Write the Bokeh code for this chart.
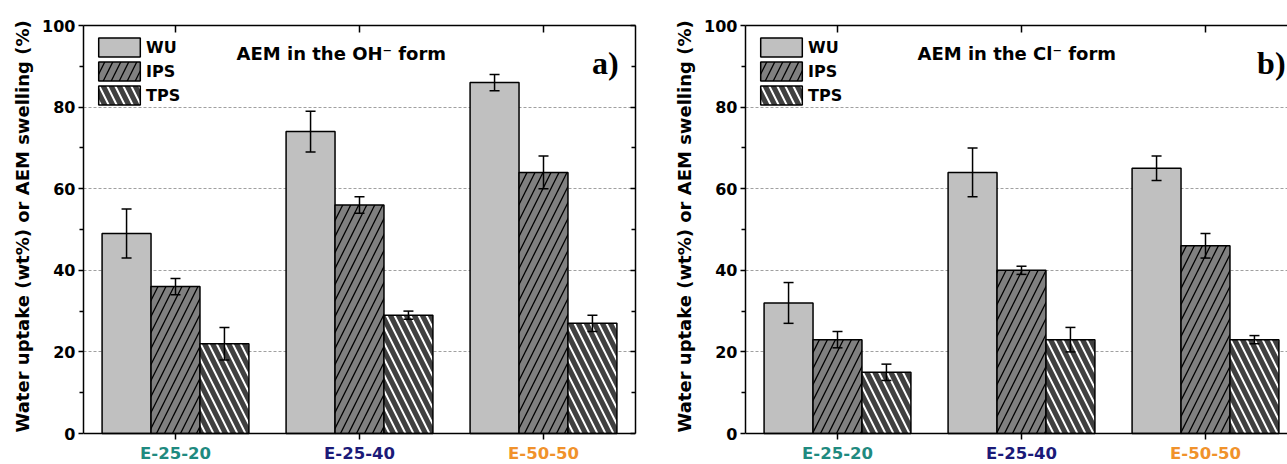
from bokeh.plotting import figure
from bokeh.models import (ColumnDataSource, Whisker, TeeHead, LinearAxis, FixedTicker,
                          Range1d, Label, Legend, LegendItem, CustomJSTickFormatter, Span,
                          Title)
from bokeh.core.properties import value
from bokeh.layouts import row
from bokeh.embed import file_html
from bokeh.resources import INLINE

# ---------------- data ----------------
categories = ["E-25-20", "E-25-40", "E-50-50"]
category_colors = ["#1f8a80", "#1b1a78", "#f0922b"]
series_names = ["WU", "IPS", "TPS"]

oh_wu = [49, 74, 86]
oh_wu_err = [6, 5, 2]
oh_ips = [36, 56, 64]
oh_ips_err = [2, 2, 4]
oh_tps = [22, 29, 27]
oh_tps_err = [4, 1, 2]

cl_wu = [32, 64, 65]
cl_wu_err = [5, 6, 3]
cl_ips = [23, 40, 46]
cl_ips_err = [2, 1, 3]
cl_tps = [15, 23, 23]
cl_tps_err = [2, 3, 1]

y_ticks = [0, 20, 40, 60, 80, 100]
y_minor_ticks = [10, 30, 50, 70, 90]

FONT = "DejaVu Sans"
BAR_W = 0.266
offsets = [-BAR_W, 0.0, BAR_W]
styles = [
    dict(fill_color="#c0c0c0", hatch_pattern=None, hatch_color=None),
    dict(fill_color="#808080", hatch_pattern="right_diagonal_line", hatch_color="black",
         hatch_weight=1.3, hatch_scale=16),
    dict(fill_color="#404040", hatch_pattern="left_diagonal_line", hatch_color="white",
         hatch_weight=2.0, hatch_scale=16),
]
blank = CustomJSTickFormatter(code="return ''")

H = 464
TOP = 25          # px above the frame's 100 line
BOTTOM_PX = 31    # px below the zero line (category strip)
PX_PER_UNIT = 408 / 100
Y_MIN = -BOTTOM_PX / PX_PER_UNIT


def make_panel(values, errors, title, tag, width, border_left, border_right, x_end,
               title_x, tag_x, right_axis):
    p = figure(width=width, height=H, x_range=Range1d(0.5, x_end),
               y_range=Range1d(Y_MIN, 100),
               output_backend="svg", toolbar_location=None, x_axis_location=None,
               min_border_left=border_left, min_border_right=border_right,
               min_border_top=TOP, min_border_bottom=0)
    p.outline_line_color = None
    p.background_fill_color = "white"
    p.border_fill_color = "white"
    p.xgrid.grid_line_color = None

    # left axis
    ya = p.yaxis[0]
    ya.ticker = FixedTicker(ticks=y_ticks, minor_ticks=y_minor_ticks)
    ya.bounds = (0, 100)
    ya.major_label_text_font = FONT
    ya.major_label_text_font_style = "bold"
    ya.major_label_text_font_size = "16px"
    ya.major_label_text_color = "black"
    ya.major_label_standoff = 3
    ya.major_tick_out = 5
    ya.major_tick_in = 0
    ya.minor_tick_out = 4
    ya.minor_tick_in = 0
    ya.axis_line_width = 1.5
    ya.major_tick_line_width = 1.5
    ya.minor_tick_line_width = 1.5

    # y axis title, aligned with the 0..100 part of the axis
    p.add_layout(Title(text="Water uptake (wt%) or AEM swelling (%)", align="left",
                       offset=BOTTOM_PX + 1, standoff=14, text_font=FONT,
                       text_font_style="bold", text_font_size="18px",
                       text_color="black"), "left")

    # top axis (ticks only)
    ta = LinearAxis(ticker=FixedTicker(ticks=[1, 2, 3], minor_ticks=[]), formatter=blank,
                    major_tick_in=7, major_tick_out=0, axis_line_width=1.5,
                    major_tick_line_width=1.5, major_label_standoff=0,
                    major_label_text_font_size="8px")
    p.add_layout(ta, "above")

    if right_axis:
        ra = LinearAxis(ticker=FixedTicker(ticks=y_ticks, minor_ticks=y_minor_ticks),
                        formatter=blank, major_tick_in=5, major_tick_out=0,
                        minor_tick_in=4, minor_tick_out=0, axis_line_width=1.5,
                        major_tick_line_width=1.5, minor_tick_line_width=1.5,
                        major_label_standoff=0, major_label_text_font_size="8px",
                        bounds=(0, 100))
        p.add_layout(ra, "right")

    p.ygrid.grid_line_color = "#a0a0a0"
    p.ygrid.grid_line_dash = "3 2"
    p.ygrid.grid_line_width = 1

    # bottom spine at zero
    p.add_layout(Span(location=0, dimension="width", line_color="black", line_width=1.5))

    items = []
    for k, (vals, errs) in enumerate(zip(values, errors)):
        xs = [i + 1 + offsets[k] for i in range(len(categories))]
        src = ColumnDataSource(dict(
            x=xs, top=vals,
            upper=[v + e for v, e in zip(vals, errs)],
            lower=[v - e for v, e in zip(vals, errs)]))
        r = p.vbar(x="x", top="top", bottom=0, width=BAR_W, source=src,
                   line_color="black", line_width=1.5, **styles[k])
        w = Whisker(source=src, base="x", upper="upper", lower="lower",
                    line_color="black", line_width=1.5,
                    upper_head=TeeHead(size=10, line_color="black", line_width=1.5),
                    lower_head=TeeHead(size=10, line_color="black", line_width=1.5))
        w.level = "annotation"
        p.add_layout(w)
        items.append(LegendItem(label=series_names[k], renderers=[r]))

    legend = Legend(items=items, location="top_left", glyph_width=52, glyph_height=24,
                    spacing=0, label_standoff=1, padding=0, margin=10,
                    border_line_color=None, background_fill_alpha=0,
                    label_text_font=FONT, label_text_font_style="bold",
                    label_text_font_size="16px", label_text_color="black")
    p.add_layout(legend)

    p.add_layout(Label(x=title_x, y=93.1, text=title, text_align="left",
                       text_baseline="alphabetic", text_font=FONT, text_font_style="bold",
                       text_font_size="18px", text_color="black"))
    p.add_layout(Label(x=tag_x, y=90.7, text=tag, text_align="right",
                       text_baseline="alphabetic", text_font="Liberation Serif",
                       text_font_style="bold", text_font_size="32px", text_color="black"))

    # category ticks (outward, below zero) and coloured category names
    cx = [i + 1 for i in range(len(categories))]
    lsrc = ColumnDataSource(dict(x=cx, text=categories, color=category_colors))
    p.segment(x0="x", x1="x", y0=0, y1=-6 / PX_PER_UNIT, source=lsrc,
              line_color="black", line_width=1.5)
    p.text(x="x", y=-20 / PX_PER_UNIT, text="text", text_color="color", source=lsrc,
           text_align="center", text_baseline="middle", text_font=value(FONT),
           text_font_style="bold", text_font_size="16.5px")
    return p


pa = make_panel([oh_wu, oh_ips, oh_tps], [oh_wu_err, oh_ips_err, oh_tps_err],
                "AEM in the OH\u207b form", "a)", width=640, border_left=83, border_right=5,
                x_end=3.5, title_x=1.332, tag_x=3.408, right_axis=True)
pb = make_panel([cl_wu, cl_ips, cl_tps], [cl_wu_err, cl_ips_err, cl_tps_err],
                "AEM in the Cl\u207b form", "b)", width=647, border_left=105, border_right=0,
                x_end=0.5 + 542 / 184, title_x=1.435, tag_x=3.435, right_axis=False)

layout = row(pa, pb, spacing=0)
open("out.html", "w").write(file_html(layout, INLINE))
